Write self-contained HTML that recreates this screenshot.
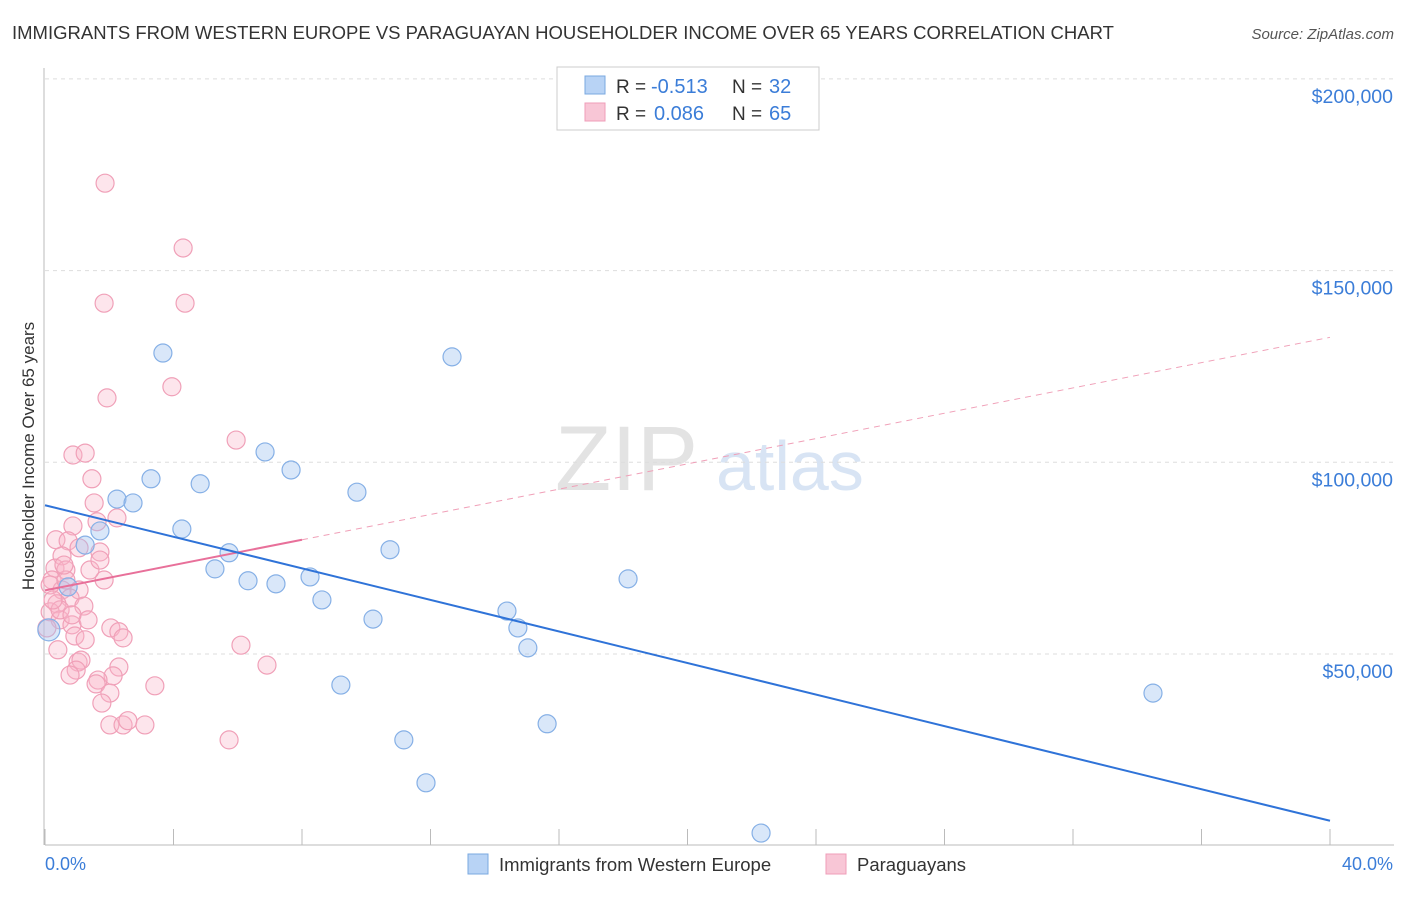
<!DOCTYPE html>
<html><head><meta charset="utf-8"><style>
body{margin:0;background:#fff;width:1406px;height:892px;overflow:hidden;font-family:"Liberation Sans",sans-serif}
svg text{font-family:"Liberation Sans",sans-serif}
</style></head><body>
<svg id="chart" width="1406" height="892" viewBox="0 0 1406 892">
<text x="12" y="39" font-size="18.5" fill="#333">IMMIGRANTS FROM WESTERN EUROPE VS PARAGUAYAN HOUSEHOLDER INCOME OVER 65 YEARS CORRELATION CHART</text>
<text x="1394" y="39" font-size="15" fill="#555" text-anchor="end" font-style="italic">Source: ZipAtlas.com</text>
<text x="555" y="490" font-size="92" fill="#ddd" font-family="Liberation Serif" opacity="0.8">ZIP</text>
<text x="716" y="490" font-size="70" fill="#c8daf0" opacity="0.7">atlas</text>
<g id="grid"></g>
<g id="axes"></g>
<g id="marks"></g>
<text transform="translate(34,456) rotate(-90)" font-size="17" fill="#333" text-anchor="middle">Householder Income Over 65 years</text>
<text x="45" y="870" font-size="18" fill="#3b7dd8">0.0%</text>
<text x="1393" y="870" font-size="18" fill="#3b7dd8" text-anchor="end">40.0%</text>
<g>
<rect x="557" y="67" width="262" height="63" fill="#fff" stroke="#ccc"/>
<rect x="585" y="76" width="20" height="18" fill="#b8d3f5" stroke="#7aa8e0"/>
<rect x="585" y="103" width="20" height="18" fill="#f8c6d6" stroke="#ef9db8"/>
<text x="616" y="93" font-size="19" fill="#333">R =</text>
<text x="651" y="93" font-size="20" fill="#3b7dd8">-0.513</text>
<text x="732" y="93" font-size="19" fill="#333">N =</text>
<text x="769" y="93" font-size="20" fill="#3b7dd8">32</text>
<text x="616" y="120" font-size="19" fill="#333">R =</text>
<text x="654" y="120" font-size="20" fill="#3b7dd8">0.086</text>
<text x="732" y="120" font-size="19" fill="#333">N =</text>
<text x="769" y="120" font-size="20" fill="#3b7dd8">65</text>
</g>
<g>
<rect x="468" y="854" width="20" height="20" fill="#b8d3f5" stroke="#7aa8e0"/>
<text x="499" y="871" font-size="18.5" fill="#333">Immigrants from Western Europe</text>
<rect x="826" y="854" width="20" height="20" fill="#f8c6d6" stroke="#ef9db8"/>
<text x="857" y="871" font-size="18.5" fill="#333">Paraguayans</text>
</g>
</svg>
<script>
const yTicks=[50,100,150,200];
const yTickLabels=["$50,000","$100,000","$150,000","$200,000"];
const blueX=[0.12,0.72,1.25,1.71,2.24,2.74,3.30,3.67,4.26,4.83,5.29,5.73,6.32,6.85,7.19,7.66,8.25,8.62,9.21,9.71,10.21,10.74,11.17,11.86,12.67,14.38,14.72,15.03,15.63,18.15,22.29,34.49];
const blueY=[56.3,67.5,78.4,82.1,90.4,89.4,95.7,128.5,82.6,94.4,72.2,76.4,69.1,102.7,68.3,98.0,70.1,64.1,41.9,92.2,59.1,77.2,27.6,16.4,127.5,61.2,56.8,51.6,31.8,69.6,3.3,39.8];
const pinkX=[1.87,4.30,1.84,4.36,1.93,3.95,5.95,0.87,1.25,1.46,1.53,2.24,1.62,0.87,0.34,0.72,1.06,1.71,0.53,0.31,0.65,0.22,1.84,1.06,0.53,0.78,0.37,1.21,0.16,0.47,0.84,1.34,0.06,2.05,2.30,2.43,0.93,6.10,1.03,1.12,0.97,2.30,0.78,2.12,1.65,1.59,3.42,6.91,2.02,1.77,2.02,2.43,2.58,3.11,5.73,0.16,0.47,0.65,1.40,0.25,0.59,1.71,0.84,0.40,1.25];
const pinkY=[172.8,155.9,141.5,141.5,116.8,119.7,105.8,101.9,102.4,95.7,89.4,85.5,84.5,83.4,79.8,79.5,77.7,76.6,75.6,72.4,71.9,69.3,69.3,66.7,66.7,64.6,63.1,62.5,61.0,58.9,57.6,58.9,56.8,56.8,55.8,54.2,54.7,52.3,47.9,48.4,45.8,46.6,44.5,44.3,43.2,42.2,41.7,47.1,39.8,37.2,31.5,31.5,32.6,31.5,27.6,68.0,61.5,69.3,71.9,64.1,73.2,74.5,60.2,51.1,53.7];
const blueTrend=[88.8,6.5];
const pinkTrend=[66.6,132.6];
const pinkSolidEnd=8;
const NS="http://www.w3.org/2000/svg";
const X=v=>45+v/40*1285, Y=v=>845.7-v/50*191.7;
function mk(t,a,p){const e=document.createElementNS(NS,t);for(const k in a)e.setAttribute(k,a[k]);p.appendChild(e);return e;}
const grid=document.getElementById('grid'),axes=document.getElementById('axes'),marks=document.getElementById('marks');
yTicks.forEach((t,i)=>{
 const l=mk('line',{x1:45,x2:1394,y1:Y(t),y2:Y(t),stroke:'#ddd','stroke-dasharray':'4,4'},grid);
 
 
 const tx=mk('text',{x:1393,y:Y(t)+24,'font-size':19.5,fill:'#3b7dd8','text-anchor':'end'},grid);
 tx.textContent=yTickLabels[i];
 
 
});
const xa=mk('line',{x1:45,x2:1394,y1:845,y2:845,stroke:'#bbb'},axes);


const ya=mk('line',{x1:44,x2:44,y1:68,y2:845,stroke:'#bbb'},axes);


for(let i=0;i<=10;i++){const t=mk('line',{x1:X(i*4),x2:X(i*4),y1:829,y2:845,stroke:'#bbb'},axes);
 
 }
function pts(xs,ys,fill,stroke,name){xs.forEach((x,i)=>{const c=mk('circle',{cx:X(x),cy:Y(ys[i]),r:i===0&&name==='blue-point'?11:9,fill,stroke,'stroke-width':1.2},marks);
 
 });}
pts(pinkX,pinkY,'rgba(248,180,200,0.35)','#f0a0b8','pink-point');
pts(blueX,blueY,'rgba(160,196,240,0.4)','#86b0e6','blue-point');
const pl=v=>pinkTrend[0]+(pinkTrend[1]-pinkTrend[0])*v/40;
const pd=mk('line',{x1:X(pinkSolidEnd),y1:Y(pl(pinkSolidEnd)),x2:X(40),y2:Y(pinkTrend[1]),stroke:'#f0a0b8','stroke-dasharray':'6,5','stroke-width':1},marks);


const ps=mk('line',{x1:X(0),y1:Y(pinkTrend[0]),x2:X(pinkSolidEnd),y2:Y(pl(pinkSolidEnd)),stroke:'#e8709a','stroke-width':2},marks);


const bl=mk('line',{x1:X(0),y1:Y(blueTrend[0]),x2:X(40),y2:Y(blueTrend[1]),stroke:'#2f73d8','stroke-width':2},marks);


</script>
</body></html>
